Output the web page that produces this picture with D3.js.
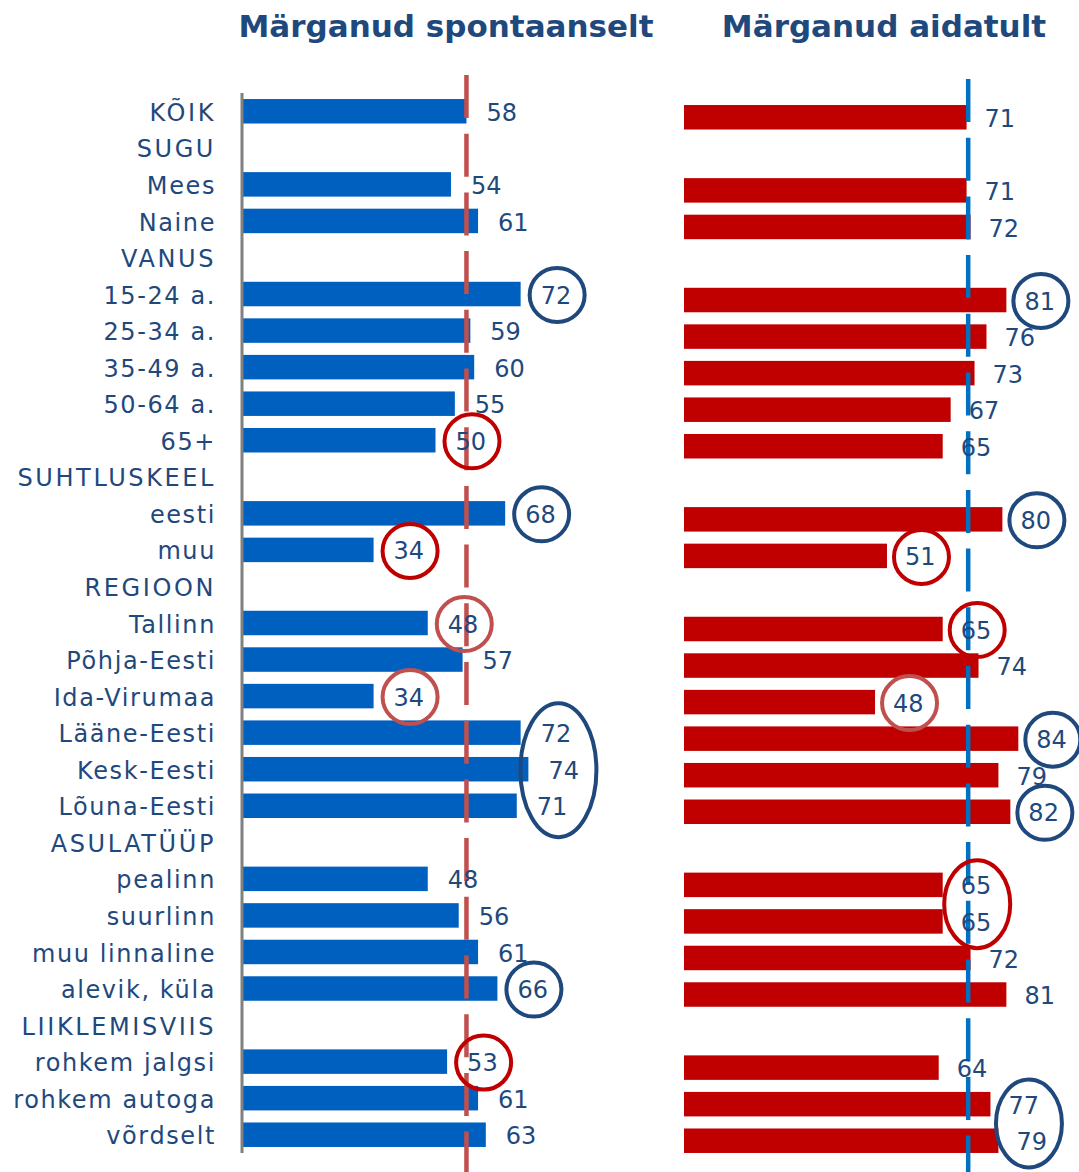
<!DOCTYPE html>
<html>
<head>
<meta charset="utf-8">
<script src="https://cdn.jsdelivr.net/npm/d3@7"></script>
<style>
  html, body { margin: 0; padding: 0; background: #ffffff; }
  svg { display: block; }
  text { font-family: "DejaVu Sans", Verdana, sans-serif; }
</style>
</head>
<body>
<div id="chart"></div>
<script>
// ---- Data ----
const categories = [
  "KÕIK", "SUGU", "Mees", "Naine", "VANUS", "15-24 a.", "25-34 a.", "35-49 a.",
  "50-64 a.", "65+", "SUHTLUSKEEL", "eesti", "muu", "REGIOON", "Tallinn",
  "Põhja-Eesti", "Ida-Virumaa", "Lääne-Eesti", "Kesk-Eesti", "Lõuna-Eesti",
  "ASULATÜÜP", "pealinn", "suurlinn", "muu linnaline", "alevik, küla",
  "LIIKLEMISVIIS", "rohkem jalgsi", "rohkem autoga", "võrdselt"
];
const spontaneous = [
  58, null, 54, 61, null, 72, 59, 60, 55, 50, null, 68, 34, null, 48,
  57, 34, 72, 74, 71, null, 48, 56, 61, 66, null, 53, 61, 63
];
const aided = [
  71, null, 71, 72, null, 81, 76, 73, 67, 65, null, 80, 51, null, 65,
  74, 48, 84, 79, 82, null, 65, 65, 72, 81, null, 64, 77, 79
];
const panelTitles = ["Märganud spontaanselt", "Märganud aidatult"];
const referenceValues = [58, 71.4];   // overall average lines
// highlighted groups: panel, first row, last row, tone
const highlights = [
  { panel: 0, from: "15-24 a.", to: "15-24 a.", tone: "high" },
  { panel: 0, from: "65+", to: "65+", tone: "low" },
  { panel: 0, from: "eesti", to: "eesti", tone: "high" },
  { panel: 0, from: "muu", to: "muu", tone: "low" },
  { panel: 0, from: "Tallinn", to: "Tallinn", tone: "lowSoft" },
  { panel: 0, from: "Ida-Virumaa", to: "Ida-Virumaa", tone: "lowSoft" },
  { panel: 0, from: "Lääne-Eesti", to: "Lõuna-Eesti", tone: "high" },
  { panel: 0, from: "alevik, küla", to: "alevik, küla", tone: "high" },
  { panel: 0, from: "rohkem jalgsi", to: "rohkem jalgsi", tone: "low" },
  { panel: 1, from: "15-24 a.", to: "15-24 a.", tone: "high" },
  { panel: 1, from: "eesti", to: "eesti", tone: "high" },
  { panel: 1, from: "muu", to: "muu", tone: "low" },
  { panel: 1, from: "Tallinn", to: "Tallinn", tone: "low" },
  { panel: 1, from: "Ida-Virumaa", to: "Ida-Virumaa", tone: "lowSoft" },
  { panel: 1, from: "Lääne-Eesti", to: "Lääne-Eesti", tone: "high" },
  { panel: 1, from: "Lõuna-Eesti", to: "Lõuna-Eesti", tone: "high" },
  { panel: 1, from: "pealinn", to: "suurlinn", tone: "low" },
  { panel: 1, from: "rohkem autoga", to: "võrdselt", tone: "high" }
];

// ---- Layout / style ----
const W = 1079, H = 1172;
const textColor = "#1F497D";
const toneColor = { high: "#1F497D", low: "#C00000", lowSoft: "#C0504D" };

const svg = d3.select("#chart").append("svg")
  .attr("width", W).attr("height", H);

const panels = [
  { values: spontaneous, xRange: [242, 629], yRange: [93, 1153], barColor: "#0060C0",
    refColor: "#C0504D", labelGap: 20, titleX: 446, refTop: 75 },
  { values: aided, xRange: [684, 1082], yRange: [99, 1159], barColor: "#C00000",
    refColor: "#0070C0", labelGap: 18, titleX: 884, refTop: 79 }
];

panels.forEach(p => {
  p.x = d3.scaleLinear().domain([0, 100]).range(p.xRange);
  p.y = d3.scaleBand().domain(categories).range(p.yRange).paddingInner(0.33).paddingOuter(0.165);
  p.yc = c => p.y(c) + p.y.bandwidth() / 2;
});

// Titles
panels.forEach((p, pi) => {
  svg.append("text")
    .attr("x", p.titleX).attr("y", 37)
    .attr("text-anchor", "middle")
    .attr("font-size", 31).attr("font-weight", "bold")
    .attr("fill", textColor)
    .text(panelTitles[pi]);
});

// Category labels
const p0 = panels[0];
const isHeader = d => d === d.toUpperCase() && /[A-ZÕÄÖÜ]/.test(d);
svg.append("g").selectAll("text").data(categories).join("text")
  .attr("x", 216)
  .attr("y", d => p0.yc(d))
  .attr("dy", "0.4em")
  .attr("text-anchor", "end")
  .attr("font-size", 24)
  .attr("letter-spacing", d => isHeader(d) ? "2.6px" : "1.6px")
  .attr("fill", textColor)
  .text(d => d);

// Bars
panels.forEach((p, pi) => {
  const rows = categories.map((c, i) => ({ c, v: p.values[i] })).filter(d => d.v != null);
  svg.append("g").selectAll("rect").data(rows).join("rect")
    .attr("x", p.x(0) + (pi === 0 ? 1 : 0))
    .attr("y", d => p.y(d.c))
    .attr("width", d => p.x(d.v) - p.x(0) - (pi === 0 ? 1 : 0))
    .attr("height", p.y.bandwidth())
    .attr("fill", p.barColor);
});

// Left axis line
svg.append("line")
  .attr("x1", p0.x(0)).attr("x2", p0.x(0))
  .attr("y1", p0.yRange[0]).attr("y2", p0.yRange[1])
  .attr("stroke", "#808080").attr("stroke-width", 3);

// Reference dashed lines
panels.forEach((p, pi) => {
  svg.append("line")
    .attr("x1", p.x(referenceValues[pi])).attr("x2", p.x(referenceValues[pi]))
    .attr("y1", p.refTop).attr("y2", H)
    .attr("stroke", p.refColor).attr("stroke-width", 4.5)
    .attr("stroke-dasharray", "43,15.7");
});

// Value labels
panels.forEach(p => {
  const rows = categories.map((c, i) => ({ c, v: p.values[i] })).filter(d => d.v != null);
  svg.append("g").selectAll("text").data(rows).join("text")
    .attr("x", d => p.x(d.v) + p.labelGap)
    .attr("y", d => p.yc(d.c))
    .attr("dy", "0.4em")
    .attr("font-size", 24)
    .attr("fill", textColor)
    .text(d => d.v);
});

// Highlight rings
highlights.forEach(h => {
  const p = panels[h.panel];
  const i0 = categories.indexOf(h.from), i1 = categories.indexOf(h.to);
  const idx = d3.range(i0, i1 + 1);
  const centers = idx.map(i => p.x(p.values[i]) + p.labelGap + 16.5);
  const cx = d3.mean(centers);
  const cy = (p.yc(categories[i0]) + p.yc(categories[i1])) / 2 + 1;
  const n = idx.length;
  const rx = n === 1 ? 27.5 : (n === 2 ? 33 : 38);
  const ry = n === 1 ? 27 : (n === 2 ? 44 : 67);
  svg.append("ellipse")
    .attr("cx", cx).attr("cy", cy)
    .attr("rx", rx).attr("ry", ry)
    .attr("fill", "none")
    .attr("stroke", toneColor[h.tone])
    .attr("stroke-width", 4);
});
</script>
</body>
</html>
